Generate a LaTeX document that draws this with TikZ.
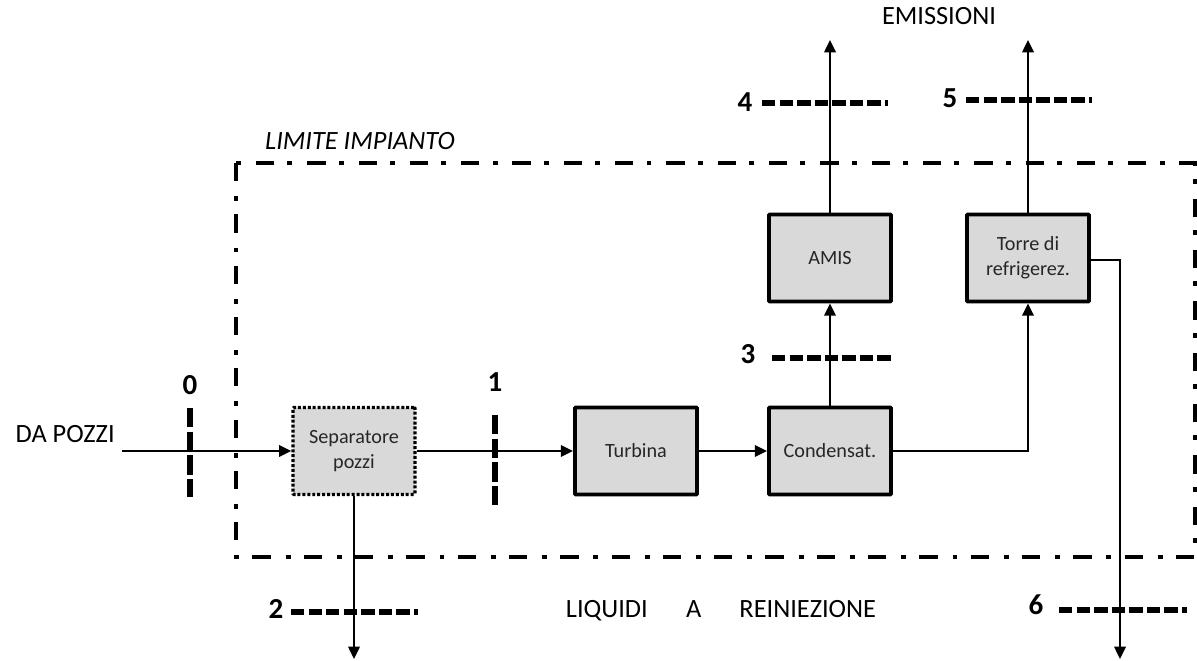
\documentclass[tikz,border=0pt]{standalone}
\usepackage{fontspec}
\setmainfont{Carlito}
\usepackage{tikz}
\usetikzlibrary{arrows.meta,positioning,calc}

\begin{document}
\begin{tikzpicture}[x=0.02cm,y=-0.02cm,
  unit/.style={draw,line width=2.2pt,fill=black!15,minimum width=2.44cm,
    minimum height=1.74cm,align=center,font=\fontsize{11.5}{14}\selectfont,
    text=black!85,rounded corners=0.5pt},
  flow/.style={line width=1.2pt,-{Triangle[length=7pt,width=6.5pt]}},
  limit/.style={line width=2.8pt,dash pattern=on 10.4pt off 8.5pt on 2.8pt off 7.5pt},
  cut/.style={line width=3.2pt,dash pattern=on 7.6pt off 2.4pt},
  vcut/.style={line width=3pt,dash pattern=on 11pt off 2.5pt},
  num/.style={font=\fontsize{16.5}{19}\bfseries\selectfont},
  lbl/.style={font=\fontsize{15}{18}\selectfont}]
  \useasboundingbox (0,0) rectangle (1197,661);
  % limite impianto
  \draw[limit] (236,163) rectangle (1195,557);
  \node[lbl,font=\fontsize{15}{18}\itshape\selectfont] (limtxt) at (360,141) {LIMITE IMPIANTO};
  % blocchi
  \node[unit,line width=1.9pt,dash pattern=on 1.7pt off 1.1pt] (sep) at (354,451) {Separatore\\pozzi};
  \node[unit] (turb) at (636,451) {Turbina};
  \node[unit] (cond) at (830,451) {Condensat.};
  \node[unit] (amis) at (830,258) {AMIS};
  \node[unit] (torre) at (1028,258) {Torre di\\refrigerez.};
  % ingresso
  \node[lbl,anchor=east,inner sep=0pt] (pozzi) at (115,434) {DA POZZI};
  \coordinate (in0) at (122,451);
  \draw[flow] (in0) -- (sep.west);
  \draw[flow] (sep.east) -- (turb.west);
  \draw[flow] (turb.east) -- (cond.west);
  \draw[flow] (cond.north) -- (amis.south);
  \draw[flow] (cond.east) -| (torre.south);
  % uscite
  \coordinate (e4) at (830,40);
  \coordinate (e5) at (1028,40);
  \coordinate (r2) at (354,659);
  \coordinate (r6) at (1120,659);
  \draw[flow] (amis.north) -- (e4);
  \draw[flow] (torre.north) -- (e5);
  \draw[flow] (sep.south) -- (r2);
  \draw[flow] ($(torre.east)+(0,2)$) -| (r6);
  \node[lbl] (emiss) at (939,16) {EMISSIONI};
  \node[lbl] (liq) at (721,611) {LIQUIDI\hspace{1.45em}A\hspace{1.45em}REINIEZIONE};
  % sezioni
  \draw[vcut] (190,408) -- (190,497);
  \node[num] (n0) at (190,385) {0};
  \draw[vcut] (495,415) -- (495,505);
  \node[num] (n1) at (495,382) {1};
  \draw[cut] (291,612) -- (418,612);
  \node[num] (n2) at (276,609) {2};
  \draw[cut] (772,358) -- (893,358);
  \node[num] (n3) at (748,354) {3};
  \draw[cut] (762,103) -- (888,103);
  \node[num] (n4) at (745,102) {4};
  \draw[cut] (966,100) -- (1092,100);
  \node[num] (n5) at (950,98) {5};
  \draw[cut] (1059,610) -- (1187,610);
  \node[num] (n6) at (1036,605) {6};
\end{tikzpicture}
\end{document}
